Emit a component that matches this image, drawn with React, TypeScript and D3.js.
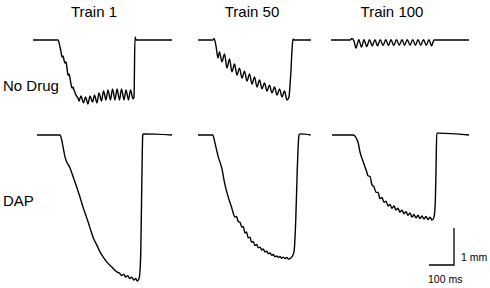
import React from 'react';
import * as d3 from 'd3';

// each trace: [time in ms from trace start, depth in mm (positive = down)]
const noDrugTrain1: [number, number][] = [
  [0, 0], [100, 0], [108, 0.19], [112, 0.32], [116, 0.46], [120, 0.43], [124, 0.54], [128, 0.62],
  [132, 0.59], [136, 0.76], [140, 0.95], [144, 0.92], [148, 1.03], [152, 1.19], [156, 1.3],
  [160, 1.27], [164, 1.35], [172, 1.49], [180, 1.57],
  [184, 1.65], [192, 1.51], [202, 1.7], [210, 1.54], [220, 1.73], [228, 1.51], [238, 1.68],
  [246, 1.49], [256, 1.7], [264, 1.43], [274, 1.65], [282, 1.38], [292, 1.62], [300, 1.35],
  [310, 1.62], [318, 1.32], [328, 1.62], [336, 1.32], [346, 1.62], [354, 1.32], [364, 1.62],
  [372, 1.35], [382, 1.62], [390, 1.35], [400, 1.59], [404, 1.54], [408, -0.08], [412, 0], [556, 0],
];

const noDrugTrain50: [number, number][] = [
  [0, 0], [60, 0], [64, -0.04], [72, 0.16], [80, 0.49], [86, 0.32], [96, 0.59], [106, 0.38],
  [116, 0.76], [126, 0.51], [136, 0.86], [146, 0.65], [156, 0.95], [166, 0.76], [176, 1.03],
  [186, 0.84], [196, 1.11], [206, 0.92], [216, 1.19], [226, 1.0], [236, 1.27], [246, 1.08],
  [256, 1.32], [266, 1.16], [276, 1.38], [286, 1.22], [296, 1.43], [306, 1.27], [316, 1.49],
  [326, 1.32], [336, 1.54], [346, 1.38], [356, 1.62], [364, 1.54], [368, 1.22], [372, 0.81],
  [376, 0.27], [380, -0.03], [384, 0], [452, 0],
];

const noDrugTrain100: [number, number][] = [
  [0, 0], [76, 0], [84, -0.04], [92, 0.03], [100, 0.22], [111, -0.01], [122, 0.19], [132, -0.01],
  [143, 0.18], [154, -0.01], [165, 0.16], [176, -0.01], [186, 0.16], [197, -0.01], [208, 0.15],
  [219, -0.01], [230, 0.15], [240, -0.01], [251, 0.15], [262, -0.01], [273, 0.14], [284, -0.01],
  [294, 0.14], [305, -0.01], [316, 0.14], [327, -0.01], [338, 0.14], [348, -0.01], [359, 0.14],
  [370, -0.01], [381, 0.14], [392, -0.01], [402, 0.16], [412, 0], [552, 0],
];

const dapTrain1: [number, number][] = [
  [0, 0], [92, 0], [99, 0.14], [105, 0.35], [112, 0.59], [119, 0.73], [132, 0.89], [145, 1.14],
  [159, 1.41], [172, 1.68], [185, 1.97], [199, 2.24], [212, 2.51], [225, 2.78], [239, 2.97],
  [252, 3.16], [265, 3.3], [279, 3.43], [299, 3.57], [319, 3.7], [331, 3.74], [339, 3.8],
  [347, 3.76], [355, 3.84], [363, 3.8], [371, 3.88], [379, 3.84], [387, 3.92], [395, 3.88],
  [401, 3.95], [409, 3.86], [415, 3.19], [419, 1.41], [423, 0], [425, -0.03], [540, 0],
];

const dapTrain50: [number, number][] = [
  [0, 0], [59, 0], [68, 0.22], [81, 0.59], [95, 0.89], [108, 1.35], [121, 1.68], [135, 1.97],
  [148, 2.22], [154, 2.2], [161, 2.34], [168, 2.36], [175, 2.49], [181, 2.47], [188, 2.65],
  [194, 2.62], [201, 2.78], [208, 2.76], [214, 2.9], [221, 2.88], [228, 2.99], [235, 2.96],
  [241, 3.05], [248, 3.03], [255, 3.11], [261, 3.08], [268, 3.16], [275, 3.14], [281, 3.21],
  [288, 3.19], [295, 3.25], [301, 3.23], [308, 3.29], [315, 3.27], [321, 3.31], [328, 3.28],
  [335, 3.33], [341, 3.3], [348, 3.34], [355, 3.31], [361, 3.35], [368, 3.34], [375, 3.3],
  [384, 3.16], [391, 2.3], [397, 0.95], [404, 0], [408, -0.03], [451, 0],
];

const dapTrain100: [number, number][] = [
  [0, 0], [85, 0], [92, 0.03], [105, 0.22], [112, 0.46], [125, 0.73], [139, 1.0], [144, 1.1],
  [152, 1.12], [160, 1.35], [168, 1.4], [176, 1.55], [184, 1.55], [192, 1.72], [200, 1.69],
  [208, 1.82], [216, 1.79], [224, 1.92], [232, 1.88], [240, 1.98], [248, 1.92], [256, 2.03],
  [264, 1.98], [272, 2.09], [280, 2.03], [288, 2.13], [296, 2.07], [304, 2.17], [312, 2.11],
  [320, 2.22], [328, 2.15], [336, 2.24], [344, 2.17], [352, 2.26], [360, 2.19], [368, 2.27],
  [376, 2.2], [384, 2.29], [392, 2.22], [400, 2.3], [408, 2.22], [413, 1.84], [416, 0.95],
  [419, -0.05], [425, -0.05], [548, 0],
];

const columnTitles = ['Train 1', 'Train 50', 'Train 100'];
const rowLabels = ['No Drug', 'DAP'];
const scaleBarMs = 100;
const scaleBarMm = 1;

// trace placements (left edge and baseline in pixels)
const traces = [
  { data: noDrugTrain1, x0: 33, y0: 40 },
  { data: noDrugTrain50, x0: 198, y0: 40 },
  { data: noDrugTrain100, x0: 331, y0: 40 },
  { data: dapTrain1, x0: 37, y0: 135 },
  { data: dapTrain50, x0: 198, y0: 135 },
  { data: dapTrain100, x0: 332, y0: 135 },
];

const titleX = [94, 252, 392];
const labelY = [91, 206];

const font = 'Arial, "Liberation Sans", sans-serif';

export default function App() {
  const x = d3.scaleLinear().domain([0, 100]).range([0, 25]);
  const y = d3.scaleLinear().domain([0, 1]).range([0, 37]);
  const line = d3
    .line<[number, number]>()
    .x((d) => x(d[0]))
    .y((d) => y(d[1]))
    .curve(d3.curveMonotoneX);

  const barX = 454;
  const barY = 265;

  return (
    <svg
      width={490}
      height={288}
      style={{ position: 'absolute', left: 0, top: 0, background: '#fff' }}
    >
      <rect width={490} height={288} fill="#fff" />
      {traces.map((t, i) => (
        <path
          key={i}
          d={line(t.data) || ''}
          transform={`translate(${t.x0},${t.y0})`}
          fill="none"
          stroke="#000"
          strokeWidth={1.4}
          strokeLinejoin="round"
        />
      ))}
      {columnTitles.map((s, i) => (
        <text key={s} x={titleX[i]} y={17} textAnchor="middle" fontFamily={font} fontSize={15} fill="#000">
          {s}
        </text>
      ))}
      {rowLabels.map((s, i) => (
        <text key={s} x={3} y={labelY[i]} fontFamily={font} fontSize={15} fill="#000">
          {s}
        </text>
      ))}
      <path
        d={`M${barX},${barY - y(scaleBarMm)}V${barY}H${barX - x(scaleBarMs)}`}
        fill="none"
        stroke="#000"
        strokeWidth={1.3}
      />
      <text x={461} y={261} fontFamily={font} fontSize={10.5} fill="#000">
        1 mm
      </text>
      <text x={428} y={283} fontFamily={font} fontSize={10.5} fill="#000">
        100 ms
      </text>
    </svg>
  );
}
